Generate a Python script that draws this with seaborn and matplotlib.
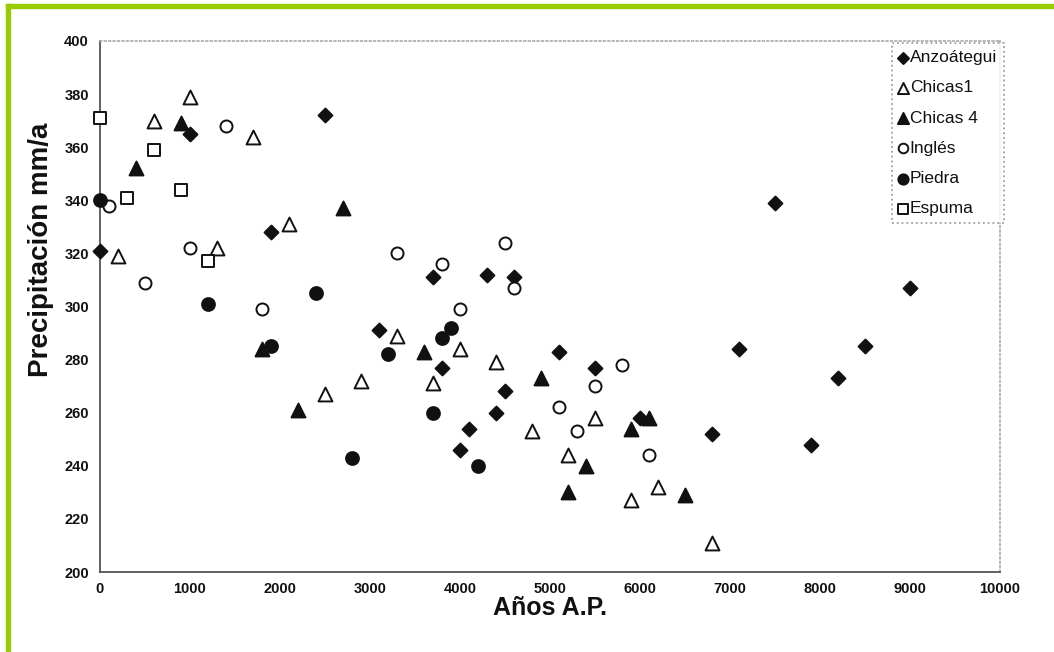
import matplotlib
matplotlib.use("Agg")
import matplotlib.pyplot as plt
import seaborn as sns
import pandas as pd
from matplotlib.patches import Rectangle

# ---- data ----
anz_x = [0, 1000, 1900, 2500, 3100, 3700, 3800, 4000, 4100, 4300, 4400, 4500,
         4600, 5100, 5500, 6000, 6800, 7100, 7500, 7900, 8200, 8500, 9000]
anz_y = [321, 365, 328, 372, 291, 311, 277, 246, 254, 312, 260, 268,
         311, 283, 277, 258, 252, 284, 339, 248, 273, 285, 307]

ch1_x = [200, 600, 1000, 1300, 1700, 2100, 2500, 2900, 3300, 3700, 4000, 4400,
         4800, 5200, 5500, 5900, 6200, 6800]
ch1_y = [319, 370, 379, 322, 364, 331, 267, 272, 289, 271, 284, 279,
         253, 244, 258, 227, 232, 211]

ch4_x = [400, 900, 1800, 2200, 2700, 3600, 4900, 5200, 5400, 5900, 6100, 6500]
ch4_y = [352, 369, 284, 261, 337, 283, 273, 230, 240, 254, 258, 229]

ing_x = [100, 500, 1000, 1400, 1800, 3300, 3800, 4000, 4500, 4600, 5100, 5300,
         5500, 5800, 6100]
ing_y = [338, 309, 322, 368, 299, 320, 316, 299, 324, 307, 262, 253,
         270, 278, 244]

pie_x = [0, 1200, 1900, 2400, 2800, 3200, 3700, 3800, 3900, 4200]
pie_y = [340, 301, 285, 305, 243, 282, 260, 288, 292, 240]

esp_x = [0, 300, 600, 900, 1200]
esp_y = [371, 341, 359, 344, 317]

series = [
    ("Anzoátegui", anz_x, anz_y),
    ("Chicas1", ch1_x, ch1_y),
    ("Chicas 4", ch4_x, ch4_y),
    ("Inglés", ing_x, ing_y),
    ("Piedra", pie_x, pie_y),
    ("Espuma", esp_x, esp_y),
]

xticks = [0, 1000, 2000, 3000, 4000, 5000, 6000, 7000, 8000, 9000, 10000]
yticks = [200, 220, 240, 260, 280, 300, 320, 340, 360, 380, 400]

styles = {
    "Anzoátegui": dict(marker="D", s=50, facecolor="#111111"),
    "Chicas1": dict(marker="^", s=100, facecolor="white"),
    "Chicas 4": dict(marker="^", s=100, facecolor="#111111"),
    "Inglés": dict(marker="o", s=75, facecolor="white"),
    "Piedra": dict(marker="o", s=85, facecolor="#111111"),
    "Espuma": dict(marker="s", s=75, facecolor="white"),
}

sns.set_style("white")
plt.rcParams["font.family"] = ["Liberation Sans", "DejaVu Sans"]
plt.rcParams["text.color"] = "#111111"

fig = plt.figure(figsize=(10.54, 6.52), dpi=100)
ax = fig.add_axes([100 / 1054, 1 - 572 / 652, 900 / 1054, 531 / 652])

for name, xs, ys in series:
    df = pd.DataFrame({"x": xs, "y": ys})
    st = styles[name]
    sns.scatterplot(data=df, x="x", y="y", ax=ax, marker=st["marker"], s=st["s"],
                    facecolor=st["facecolor"], edgecolor="#111111",
                    linewidth=1.4, label=name, zorder=3, clip_on=False)

ax.set_xlim(0, 10000)
ax.set_ylim(200, 400)
ax.set_xticks(xticks)
ax.set_yticks(yticks)
ax.set_xticklabels([str(t) for t in xticks], fontsize=10.5, fontweight="bold",
                   color="#111111")
ax.set_yticklabels([str(t) for t in yticks], fontsize=10.5, fontweight="bold",
                   color="#111111")
ax.tick_params(axis="x", direction="inout", length=7, width=0.9, color="#444444", pad=4)
ax.tick_params(axis="y", direction="out", length=5, width=0.9, color="#444444", pad=3)

for side in ["left", "bottom"]:
    ax.spines[side].set_color("#555555")
    ax.spines[side].set_linewidth(1.3)
for side in ["top", "right"]:
    ax.spines[side].set_color("#aaaaaa")
    ax.spines[side].set_linestyle(":")
    ax.spines[side].set_linewidth(1.2)

ax.set_xlabel("Años A.P.", fontsize=18, fontweight="bold", labelpad=0,
              color="#111111")
ax.set_ylabel("Precipitación mm/a", fontsize=20, fontweight="bold",
              color="#111111")
ax.yaxis.set_label_coords(-46 / 900, (572 - 250) / 531)

leg = ax.legend(loc="upper right", bbox_to_anchor=(1004 / 1054, 1 - 43 / 652),
                bbox_transform=fig.transFigure, fontsize=12.5, frameon=True,
                fancybox=False, handlelength=0.4, handletextpad=0.2,
                labelspacing=0.87, borderpad=0.4, borderaxespad=0,
                markerscale=0.8)
frame = leg.get_frame()
frame.set_edgecolor("#888888")
frame.set_linestyle(":")
frame.set_linewidth(1.3)
for t in leg.get_texts():
    t.set_color("#111111")

# green frame
fig.patches.append(Rectangle((6 / 1054, 1 - 8 / 652), 1 - 6 / 1054, 4 / 652,
                             transform=fig.transFigure, color="#99cc00", zorder=10))
fig.patches.append(Rectangle((6 / 1054, 0), 4 / 1054, 1 - 4 / 652,
                             transform=fig.transFigure, color="#99cc00", zorder=10))

fig.savefig("out.png", dpi=100, facecolor="white")
